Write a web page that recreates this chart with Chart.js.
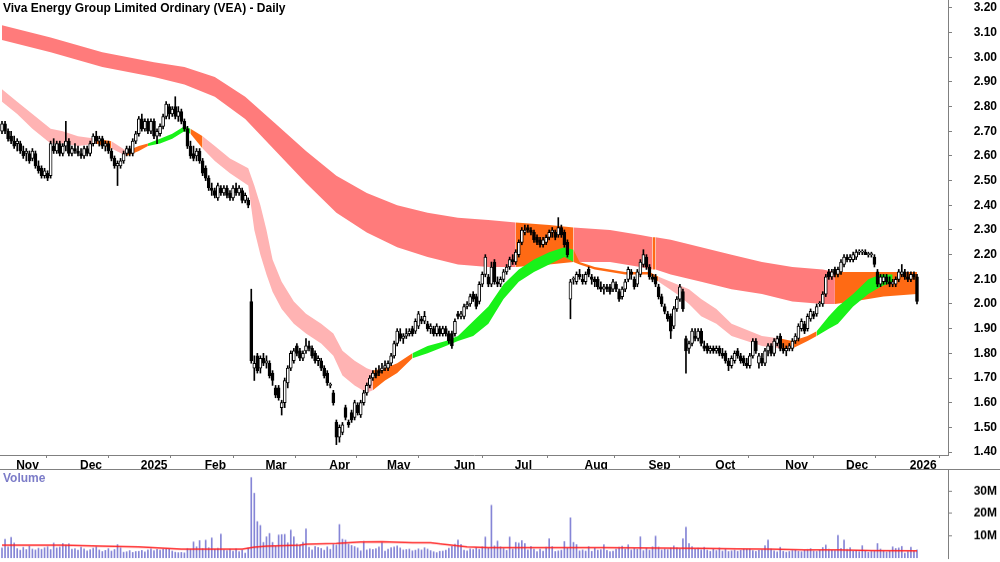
<!DOCTYPE html>
<html>
<head>
<meta charset="utf-8">
<script src="https://cdn.jsdelivr.net/npm/chart.js@4"></script>
<style>
  body { margin: 0; background: #fff; }
  #wrap { position: relative; width: 1000px; height: 562px; overflow: hidden; }
  #price { position: absolute; left: 0; top: 0; }
  #vol { position: absolute; left: 0; top: 469px; border-top: 1px solid #808080; }
  .lbl { position: absolute; font: bold 12px 'Liberation Sans Narrow', 'Liberation Sans', Arial, sans-serif; white-space: nowrap; }
</style>
</head>
<body>
<div id="wrap">
  <canvas id="price" width="1000" height="469"></canvas>
  <canvas id="vol" width="1000" height="92"></canvas>
  <div class="lbl" style="left:3px;top:1px;color:#000">Viva Energy Group Limited Ordinary (VEA) - Daily</div>
  <div class="lbl" style="left:3px;top:471px;color:#7c7cc8">Volume</div>
</div>
<script>
// one bar per trading day, 28 Oct 2024 .. 7 Jan 2026
const opens = [
  2.70,2.73,2.70,2.68,
  2.66,2.65,2.65,2.62,2.61,2.61,2.59,2.61,2.56,2.55,2.52,2.53,2.52,2.64,2.62,2.65,2.61,2.64,2.66,2.61,2.63,
  2.62,2.61,2.60,2.63,2.61,2.65,2.68,2.66,2.67,2.64,2.65,2.62,2.59,2.56,2.56,2.58,2.61,2.63,2.61,2.66,
  2.69,2.75,2.71,2.74,2.70,2.74,2.68,2.69,2.72,2.76,2.80,2.77,2.80,2.76,2.78,2.74,2.71,2.64,2.61,2.60,2.62,
  2.58,2.55,2.51,2.47,2.46,2.43,2.47,2.45,2.47,2.45,2.43,2.47,2.45,2.46,2.42,2.42,2.01,1.74,1.79,1.74,
  1.78,1.76,1.76,1.72,1.66,1.66,1.58,1.60,1.68,1.74,1.77,1.83,1.81,1.78,1.81,1.83,1.82,1.80,1.77,1.77,1.74,
  1.72,1.67,1.64,1.52,1.46,1.48,1.58,1.52,1.56,1.54,1.59,1.55,1.60,1.64,1.67,1.70,1.72,1.73,1.73,
  1.74,1.74,1.76,1.79,1.84,1.88,1.86,1.87,1.88,1.90,1.89,1.91,1.94,1.93,1.92,1.90,1.90,1.88,1.90,1.88,1.90,1.88,
  1.88,1.88,1.96,1.95,1.95,1.99,2.00,2.04,2.03,2.01,2.08,2.12,2.11,2.08,2.17,2.09,2.08,2.10,2.13,2.15,
  2.18,2.17,2.20,2.25,2.29,2.31,2.30,2.29,2.27,2.26,2.24,2.25,2.27,2.29,2.29,2.28,2.31,2.29,2.25,2.02,2.10,2.09,2.12,
  2.10,2.09,2.14,2.11,2.10,2.10,2.07,2.06,2.07,2.07,2.06,2.08,2.05,2.03,2.06,2.10,2.13,2.10,2.08,2.12,2.16,
  2.19,2.15,2.11,2.11,2.07,2.03,1.99,1.96,1.95,1.91,1.98,2.02,2.05,1.86,1.82,1.84,1.87,1.86,1.89,1.83,1.83,1.81,
  1.82,1.81,1.82,1.80,1.80,1.77,1.75,1.77,1.81,1.79,1.78,1.76,1.75,1.79,1.85,1.76,1.78,1.76,1.81,1.83,1.80,1.84,1.87,
  1.82,1.81,1.82,1.82,1.85,1.86,1.90,1.92,1.90,1.94,1.96,1.96,2.00,2.00,2.04,2.13,2.11,2.14,2.12,2.13,
  2.16,2.19,2.18,2.18,2.19,2.21,2.21,2.21,2.20,2.20,2.19,2.13,2.08,2.09,2.11,2.09,2.08,2.08,2.10,2.12,2.13,
  2.11,2.10,2.12,2.11
];
const highs = [
  2.74,2.74,2.71,2.70,
  2.68,2.67,2.66,2.64,2.63,2.62,2.63,2.62,2.58,2.56,2.55,2.54,2.66,2.67,2.66,2.66,2.65,2.74,2.67,2.64,2.65,
  2.64,2.63,2.64,2.64,2.66,2.69,2.70,2.68,2.68,2.66,2.66,2.63,2.60,2.58,2.59,2.62,2.64,2.64,2.67,2.70,
  2.76,2.77,2.75,2.75,2.75,2.75,2.71,2.73,2.77,2.82,2.81,2.80,2.84,2.80,2.79,2.75,2.72,2.66,2.64,2.63,2.63,
  2.59,2.56,2.52,2.49,2.47,2.49,2.48,2.48,2.48,2.46,2.48,2.49,2.48,2.47,2.45,2.43,2.06,1.79,1.80,1.79,
  1.80,1.79,1.77,1.73,1.67,1.67,1.61,1.70,1.75,1.81,1.82,1.84,1.82,1.81,1.86,1.85,1.83,1.81,1.79,1.78,1.75,
  1.73,1.68,1.65,1.53,1.51,1.52,1.59,1.53,1.57,1.61,1.60,1.61,1.65,1.68,1.71,1.73,1.74,1.75,1.76,
  1.77,1.77,1.80,1.85,1.90,1.90,1.88,1.90,1.90,1.91,1.94,1.97,1.95,1.97,1.93,1.92,1.91,1.92,1.91,1.91,1.91,1.89,
  1.89,1.94,1.97,1.97,2.00,2.01,2.04,2.05,2.04,2.09,2.13,2.20,2.12,2.17,2.18,2.11,2.11,2.14,2.16,2.19,
  2.20,2.22,2.26,2.31,2.32,2.32,2.31,2.30,2.28,2.27,2.27,2.28,2.30,2.31,2.30,2.35,2.32,2.30,2.26,2.10,2.11,2.13,2.14,
  2.12,2.13,2.15,2.12,2.11,2.11,2.09,2.08,2.08,2.08,2.10,2.09,2.06,2.07,2.10,2.15,2.14,2.11,2.14,2.18,2.22,
  2.20,2.16,2.12,2.12,2.08,2.04,2.00,1.97,1.96,1.99,2.03,2.08,2.06,1.87,1.85,1.90,1.90,1.90,1.90,1.85,1.84,1.83,
  1.83,1.83,1.83,1.82,1.81,1.78,1.79,1.81,1.82,1.80,1.79,1.78,1.80,1.86,1.86,1.80,1.80,1.82,1.84,1.84,1.86,1.87,1.88,
  1.84,1.83,1.84,1.86,1.88,1.92,1.94,1.93,1.96,1.98,1.97,2.00,2.01,2.05,2.12,2.14,2.14,2.15,2.15,2.18,
  2.20,2.20,2.20,2.21,2.22,2.22,2.22,2.22,2.21,2.21,2.20,2.14,2.12,2.12,2.12,2.11,2.10,2.11,2.14,2.16,2.14,
  2.13,2.13,2.13,2.12
];
const lows = [
  2.69,2.69,2.66,2.65,
  2.63,2.62,2.61,2.59,2.58,2.57,2.58,2.55,2.53,2.51,2.51,2.50,2.51,2.61,2.61,2.60,2.60,2.62,2.60,2.60,2.61,
  2.60,2.59,2.59,2.60,2.60,2.64,2.65,2.64,2.63,2.62,2.61,2.58,2.55,2.48,2.55,2.57,2.60,2.60,2.60,2.65,
  2.68,2.70,2.70,2.69,2.69,2.67,2.65,2.68,2.71,2.75,2.75,2.76,2.75,2.74,2.73,2.70,2.63,2.59,2.58,2.58,2.57,
  2.52,2.50,2.46,2.44,2.43,2.42,2.44,2.44,2.43,2.42,2.42,2.44,2.44,2.41,2.41,2.39,1.76,1.69,1.72,1.72,
  1.75,1.74,1.70,1.67,1.62,1.61,1.55,1.58,1.66,1.73,1.76,1.79,1.77,1.77,1.80,1.81,1.78,1.76,1.75,1.73,1.70,
  1.67,1.66,1.59,1.43,1.44,1.47,1.53,1.50,1.52,1.53,1.55,1.54,1.59,1.63,1.66,1.69,1.70,1.71,1.72,
  1.73,1.73,1.75,1.78,1.83,1.85,1.84,1.86,1.87,1.87,1.88,1.90,1.92,1.92,1.89,1.88,1.87,1.87,1.87,1.87,1.87,1.84,
  1.82,1.87,1.94,1.94,1.94,1.98,1.99,2.01,1.98,2.00,2.07,2.11,2.07,2.07,2.08,2.07,2.07,2.09,2.12,2.14,
  2.16,2.16,2.19,2.24,2.28,2.29,2.28,2.25,2.24,2.23,2.23,2.24,2.26,2.27,2.26,2.27,2.27,2.23,2.19,1.94,2.08,2.08,2.10,
  2.08,2.08,2.11,2.08,2.07,2.06,2.05,2.04,2.05,2.04,2.05,2.05,2.01,2.02,2.05,2.09,2.10,2.06,2.07,2.11,2.15,
  2.14,2.10,2.09,2.07,2.02,1.99,1.96,1.93,1.86,1.90,1.97,2.01,1.97,1.72,1.80,1.83,1.85,1.85,1.83,1.81,1.80,1.80,
  1.80,1.80,1.79,1.78,1.76,1.73,1.74,1.76,1.78,1.76,1.75,1.74,1.74,1.78,1.80,1.74,1.75,1.75,1.79,1.79,1.79,1.83,1.81,
  1.80,1.79,1.81,1.81,1.84,1.85,1.89,1.88,1.89,1.93,1.94,1.95,1.99,1.99,2.03,2.10,2.10,2.11,2.11,2.12,
  2.15,2.17,2.17,2.17,2.18,2.20,2.20,2.20,2.19,2.19,2.15,2.07,2.07,2.08,2.08,2.07,2.07,2.07,2.09,2.11,2.10,
  2.09,2.09,2.10,2.00
];
const closes = [
  2.73,2.70,2.67,2.66,
  2.64,2.66,2.62,2.60,2.62,2.58,2.62,2.56,2.54,2.52,2.54,2.51,2.65,2.62,2.65,2.61,2.64,2.66,2.61,2.63,2.62,
  2.61,2.60,2.63,2.61,2.65,2.68,2.66,2.67,2.64,2.65,2.62,2.59,2.56,2.57,2.58,2.61,2.63,2.61,2.66,2.69,
  2.75,2.71,2.74,2.70,2.74,2.68,2.70,2.72,2.76,2.81,2.77,2.79,2.76,2.78,2.74,2.71,2.64,2.60,2.59,2.62,2.58,
  2.53,2.51,2.47,2.46,2.44,2.48,2.45,2.47,2.44,2.43,2.47,2.45,2.47,2.42,2.44,2.40,1.77,1.76,1.73,1.78,
  1.76,1.77,1.71,1.69,1.63,1.62,1.60,1.69,1.74,1.80,1.81,1.80,1.78,1.80,1.83,1.82,1.79,1.77,1.78,1.74,1.71,
  1.68,1.67,1.60,1.46,1.50,1.51,1.54,1.51,1.53,1.60,1.56,1.60,1.64,1.67,1.70,1.72,1.71,1.72,1.74,
  1.75,1.76,1.79,1.84,1.89,1.86,1.87,1.88,1.89,1.88,1.93,1.96,1.93,1.95,1.90,1.91,1.88,1.91,1.88,1.90,1.88,1.85,
  1.83,1.93,1.95,1.96,1.99,2.00,2.03,2.02,1.99,2.08,2.12,2.19,2.08,2.15,2.09,2.08,2.10,2.13,2.15,2.18,
  2.17,2.21,2.25,2.30,2.30,2.30,2.29,2.26,2.25,2.24,2.26,2.27,2.29,2.30,2.27,2.31,2.28,2.24,2.20,2.09,2.10,2.12,2.11,
  2.09,2.12,2.12,2.10,2.09,2.07,2.06,2.07,2.06,2.05,2.09,2.06,2.02,2.06,2.09,2.14,2.12,2.07,2.13,2.17,2.20,
  2.15,2.11,2.10,2.08,2.03,2.00,1.97,1.94,1.89,1.98,2.02,2.07,1.98,1.81,1.84,1.89,1.86,1.89,1.84,1.82,1.81,1.82,
  1.81,1.82,1.80,1.79,1.77,1.75,1.78,1.80,1.79,1.77,1.76,1.75,1.79,1.85,1.81,1.79,1.76,1.81,1.83,1.80,1.85,1.86,1.82,
  1.81,1.82,1.83,1.85,1.87,1.91,1.93,1.89,1.95,1.97,1.95,1.99,2.00,2.04,2.11,2.11,2.13,2.12,2.14,2.17,
  2.19,2.18,2.19,2.20,2.21,2.21,2.21,2.20,2.20,2.20,2.16,2.08,2.11,2.11,2.09,2.08,2.09,2.10,2.13,2.13,2.11,
  2.10,2.12,2.11,2.01
];
// millions of shares
const volumes = [
  4.5,8.4,5.0,9.3,
  6.7,4.2,3.5,4.8,3.8,5.2,4.0,3.6,4.4,3.9,4.6,5.0,3.8,6.7,4.5,4.9,6.5,5.8,6.4,3.9,4.2,
  3.5,4.8,4.1,3.2,3.7,4.4,5.0,3.6,2.9,3.4,4.2,3.1,3.8,6.0,4.5,2.6,2.8,3.3,2.5,2.9,
  3.0,3.4,2.7,3.6,4.1,3.3,3.8,3.5,4.0,3.9,4.2,3.1,2.6,2.4,2.5,2.3,4.3,3.9,7.2,5.0,7.8,
  4.3,8.0,4.6,9.0,3.9,4.4,10.7,3.6,3.3,4.0,3.1,4.2,2.8,3.5,2.2,4.5,36.0,29.0,16.3,14.6,
  7.0,9.5,11.0,7.0,5.2,10.3,10.5,10.6,6.8,12.5,9.5,6.3,5.8,7.0,13.0,4.8,3.6,5.2,4.7,4.3,3.5,
  5.0,3.9,6.0,5.8,15.0,8.4,8.0,6.2,5.6,5.1,4.5,3.2,7.5,3.6,4.1,3.8,4.2,5.0,6.8,
  3.1,3.9,4.6,5.0,5.4,4.5,3.6,3.8,4.0,3.2,3.5,4.1,3.6,4.6,4.0,3.3,2.8,2.4,3.0,3.1,3.5,4.4,
  5.2,6.2,8.0,6.0,3.5,3.2,4.1,3.8,4.6,3.9,5.0,9.4,4.4,23.6,5.4,7.6,5.0,4.2,3.4,9.4,
  4.0,7.0,6.7,7.8,6.5,3.6,5.2,4.0,2.8,4.0,3.1,4.8,8.6,5.1,2.9,3.2,3.5,7.4,4.4,18.0,7.0,6.0,3.2,
  3.6,3.1,5.1,3.0,4.3,3.5,3.7,5.9,3.4,2.8,3.1,3.9,4.8,5.3,4.0,5.9,3.6,4.2,3.9,9.5,3.3,
  4.4,3.5,5.0,9.8,4.9,3.6,4.0,3.7,4.5,5.4,4.6,4.1,8.6,13.8,6.5,5.1,3.9,4.4,3.6,4.8,3.5,3.0,
  4.0,3.3,4.5,3.1,3.8,2.9,3.2,3.5,3.0,3.4,4.1,3.9,4.2,3.3,2.9,3.4,3.6,5.5,8.0,4.1,3.2,2.7,4.8,
  3.0,2.6,2.9,3.3,3.6,3.0,2.8,3.4,3.9,4.2,3.1,2.9,3.5,4.7,5.8,4.0,3.5,3.3,10.2,4.3,
  8.0,3.9,4.6,3.0,3.4,2.8,5.5,3.2,2.6,2.9,3.1,6.5,4.0,3.4,2.7,3.0,5.0,4.3,4.5,5.2,2.2,
  2.8,4.8,3.0,3.6
];

// volume average line, read at these bar numbers (millions)
const volAvgAt = [0, 20, 33, 45, 59, 79, 83, 87, 98, 100, 110, 118, 125, 135, 141, 145, 153, 160, 176, 198, 220, 231, 242, 253, 264, 275, 286, 301];
const volAvg   = [5.8, 5.8, 5.3, 5.0, 4.0, 4.0, 4.9, 5.3, 5.8, 6.2, 6.5, 7.2, 7.3, 6.9, 6.9, 6.2, 5.0, 4.7, 4.6, 4.7, 4.4, 4.3, 4.1, 4.0, 3.6, 3.6, 3.3, 3.2];

// long-term average band (upper / lower edge)
const longAt  = [0, 16, 33, 50, 60, 70, 80, 90, 100, 110, 120, 130, 140, 150, 160, 169, 180, 188, 200, 210, 214, 215, 220, 230, 240, 250, 260, 270, 274, 280, 290, 301];
const longTop = [3.13, 3.08, 3.02, 2.98, 2.96, 2.92, 2.84, 2.73, 2.62, 2.52, 2.45, 2.40, 2.37, 2.35, 2.34, 2.33, 2.32, 2.31, 2.30, 2.28, 2.27, 2.27, 2.26, 2.23, 2.20, 2.17, 2.15, 2.14, 2.13, 2.13, 2.13, 2.13];
const longBot = [3.07, 3.02, 2.96, 2.92, 2.89, 2.84, 2.75, 2.62, 2.49, 2.37, 2.29, 2.23, 2.19, 2.16, 2.15, 2.15, 2.16, 2.17, 2.17, 2.15, 2.14, 2.14, 2.12, 2.09, 2.06, 2.04, 2.01, 2.00, 2.00, 2.01, 2.03, 2.04];

// short-term average band (upper / lower edge)
const shortAt  = [0, 5, 10, 16, 20, 25, 31, 36, 41, 45, 48, 52, 56, 60, 62, 66, 70, 75, 81, 83, 85, 87, 89, 92, 96, 100, 105, 109, 112, 116, 120, 122, 126, 130, 135, 140, 146, 150, 155, 160, 165, 170, 175, 180, 185, 188, 190, 195, 205, 213, 216, 222, 226, 230, 235, 240, 250, 256, 260, 265, 268, 272, 275, 280, 285, 289, 293, 297, 301];
const shortTop = [2.87, 2.82, 2.77, 2.71, 2.70, 2.68, 2.67, 2.66, 2.62, 2.64, 2.65, 2.67, 2.69, 2.72, 2.71, 2.68, 2.64, 2.59, 2.55, 2.48, 2.40, 2.30, 2.18, 2.09, 2.01, 1.96, 1.92, 1.88, 1.81, 1.77, 1.74, 1.73, 1.74, 1.76, 1.80, 1.83, 1.85, 1.87, 1.93, 1.99, 2.08, 2.14, 2.18, 2.21, 2.23, 2.22, 2.17, 2.15, 2.13, 2.13, 2.11, 2.08, 2.06, 2.02, 1.98, 1.92, 1.87, 1.86, 1.85, 1.87, 1.89, 1.95, 1.99, 2.04, 2.10, 2.12, 2.12, 2.12, 2.12];
const shortBot = [2.82, 2.77, 2.71, 2.65, 2.65, 2.64, 2.65, 2.63, 2.60, 2.62, 2.64, 2.65, 2.67, 2.70, 2.69, 2.63, 2.58, 2.53, 2.48, 2.30, 2.20, 2.12, 2.05, 1.98, 1.92, 1.88, 1.84, 1.79, 1.71, 1.67, 1.64, 1.65, 1.69, 1.72, 1.78, 1.80, 1.83, 1.85, 1.87, 1.92, 2.02, 2.09, 2.13, 2.16, 2.19, 2.17, 2.16, 2.14, 2.12, 2.12, 2.09, 2.04, 2.00, 1.95, 1.92, 1.87, 1.83, 1.82, 1.82, 1.85, 1.87, 1.90, 1.92, 1.99, 2.04, 2.07, 2.09, 2.10, 2.07];

// axis ticks
const monthAt     = [4, 25, 45, 66, 86, 107, 126, 148, 168, 191, 212, 234, 257, 277, 298];
const monthLabels = ['Nov', 'Dec', '2025', 'Feb', 'Mar', 'Apr', 'May', 'Jun', 'Jul', 'Aug', 'Sep', 'Oct', 'Nov', 'Dec', '2026'];
const priceTicks  = [1.4, 1.5, 1.6, 1.7, 1.8, 1.9, 2.0, 2.1, 2.2, 2.3, 2.4, 2.5, 2.6, 2.7, 2.8, 2.9, 3.0, 3.1, 3.2];
const volTicks    = [10, 20, 30];

// band colour changes (bar number where each colour starts)
const longZones  = [[0, 'red'], [169, 'orange'], [188, 'red'], [214, 'orange'], [215, 'red'], [274, 'orange']];
const shortZones = [[0, 'pink'], [31, 'orange'], [36, 'pink'], [41, 'orange'], [48, 'green'], [62, 'orange'], [66, 'pink'],
                    [122, 'orange'], [135, 'green'], [188, 'orange'], [216, 'pink'], [256, 'orange'], [268, 'green'], [293, 'orange']];

const COLORS = { red: '#ff7b7b', pink: '#ffb3b3', orange: '#ff6a14', green: '#19f219' };
const FONT = "'Liberation Sans Narrow', 'Liberation Sans', Arial, sans-serif";
const X_MIN = -0.66, X_MAX = 311.2;

function zoneColor(zones, at) {
  let c = zones[0][1];
  for (const [start, name] of zones) if (at >= start) c = name;
  return COLORS[c];
}
const pts = (xs, ys) => xs.map((x, k) => ({ x: x, y: ys[k] }));
const axisFont = { family: FONT, size: 12, weight: 'bold' };
// keep the plot flush with the canvas edges
const noPad = s => { s.paddingTop = 0; s.paddingBottom = 0; s.paddingLeft = 0; s.paddingRight = 0; };

function bandEdge(xs, ys, fill, zones, order) {
  return {
    type: 'line',
    data: pts(xs, ys),
    borderColor: 'rgba(0,0,0,0)',
    borderWidth: 1,
    pointRadius: 0,
    tension: 0,
    fill: fill,
    backgroundColor: zones ? COLORS[zones[0][1]] : 'rgba(0,0,0,0)',
    segment: zones ? { backgroundColor: ctx => zoneColor(zones, xs[ctx.p0DataIndex]) } : undefined,
    order: order
  };
}

new Chart(document.getElementById('price'), {
  type: 'bar',
  data: {
    datasets: [
      bandEdge(longAt, longTop, '+1', longZones, 10),
      bandEdge(longAt, longBot, false, null, 11),
      bandEdge(shortAt, shortTop, '+1', shortZones, 8),
      bandEdge(shortAt, shortBot, false, null, 9),
      {
        data: closes.map((c, i) => ({ x: i, y: [lows[i], highs[i]] })),
        backgroundColor: '#000',
        barThickness: 1,
        grouped: false,
        order: 2
      },
      {
        data: closes.map((c, i) => ({ x: i, y: [opens[i], c] })),
        backgroundColor: ctx => closes[ctx.dataIndex] >= opens[ctx.dataIndex] ? '#fff' : '#000',
        borderColor: '#000',
        borderWidth: 1,
        borderSkipped: false,
        barThickness: 3,
        minBarLength: 1,
        grouped: false,
        order: 1
      }
    ]
  },
  options: {
    responsive: false,
    animation: false,
    layout: { padding: { left: 0, right: 3, top: 0, bottom: 0 } },
    plugins: { legend: { display: false }, tooltip: { enabled: false } },
    scales: {
      x: {
        type: 'linear', min: X_MIN, max: X_MAX, offset: false,
        afterBuildTicks: s => { s.ticks = monthAt.map(v => ({ value: v })); },
        afterFit: s => { s.height = 14; noPad(s); },
        ticks: {
          autoSkip: false, maxRotation: 0, align: 'start', labelOffset: 2, padding: 0,
          font: axisFont, color: '#000',
          callback: v => monthLabels[monthAt.indexOf(v)]
        },
        grid: { drawOnChartArea: false, tickLength: 3, color: '#808080' },
        border: { color: '#808080' }
      },
      y: {
        position: 'right', min: 1.388, max: 3.232,
        afterBuildTicks: s => { s.ticks = priceTicks.map(v => ({ value: v })); },
        afterFit: s => { s.width = 49; noPad(s); },
        ticks: { font: axisFont, color: '#000', crossAlign: 'far', callback: v => v.toFixed(2) },
        grid: { drawOnChartArea: false, tickLength: 4, color: '#808080' },
        border: { color: '#808080' }
      }
    }
  }
});

new Chart(document.getElementById('vol'), {
  type: 'bar',
  data: {
    datasets: [
      {
        type: 'line',
        data: pts(volAvgAt, volAvg),
        borderColor: '#ff2020',
        borderWidth: 1.5,
        pointRadius: 0,
        order: 0
      },
      {
        data: volumes.map((v, i) => ({ x: i, y: v })),
        backgroundColor: '#8585d6',
        barThickness: 1,
        order: 1
      }
    ]
  },
  options: {
    responsive: false,
    animation: false,
    layout: { padding: { left: 0, right: 3, top: 0, bottom: 3 } },
    plugins: { legend: { display: false }, tooltip: { enabled: false } },
    scales: {
      x: {
        type: 'linear', min: X_MIN, max: X_MAX, offset: false, position: 'top',
        ticks: { display: false }, grid: { display: false }, border: { display: false },
        afterFit: s => { s.height = 0; noPad(s); }
      },
      y: {
        position: 'right', min: 0, max: 39.4,
        afterBuildTicks: s => { s.ticks = volTicks.map(v => ({ value: v })); },
        afterFit: s => { s.width = 49; noPad(s); },
        ticks: { font: axisFont, color: '#000', crossAlign: 'far', callback: v => v + 'M' },
        grid: { drawOnChartArea: false, tickLength: 4, color: '#808080' },
        border: { color: '#808080' }
      }
    }
  }
});
</script>
</body>
</html>
